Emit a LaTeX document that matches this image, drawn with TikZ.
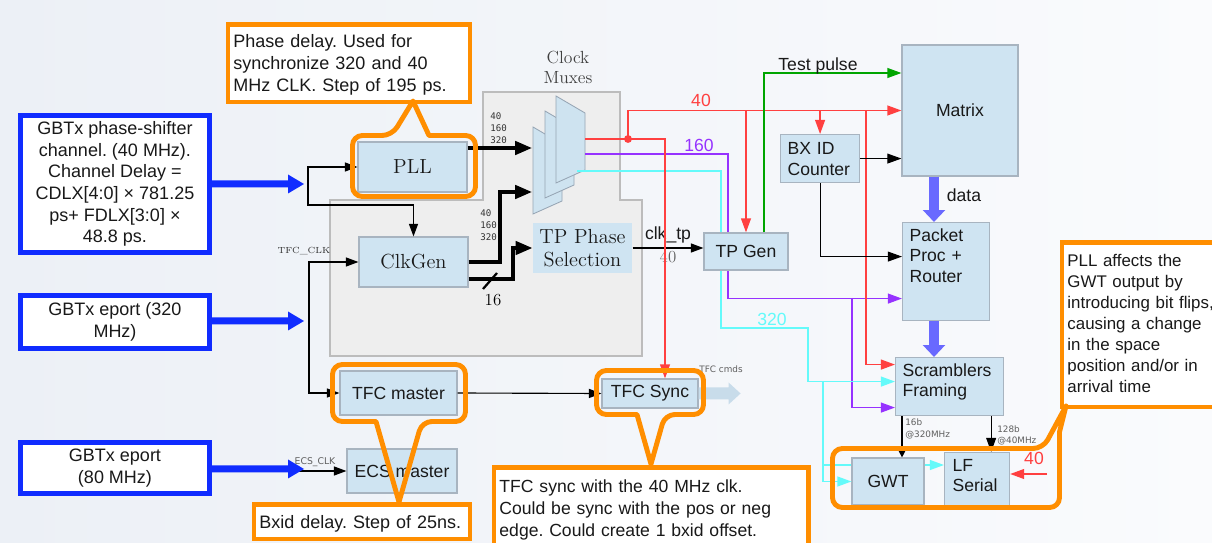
\documentclass[tikz,border=0pt]{standalone}
\usepackage{fontspec}
\setsansfont{Liberation Sans}
\newfontfamily\dvsans{DejaVu Sans}
\newfontfamily\dvmono{DejaVu Sans Mono}
\usetikzlibrary{arrows.meta,calc}
\definecolor{bgL}{RGB}{236,240,246}
\definecolor{bgR}{RGB}{250,251,253}
\definecolor{nodefill}{RGB}{207,228,242}
\definecolor{nodeline}{RGB}{168,180,192}
\definecolor{bbl}{RGB}{16,44,255}
\definecolor{orng}{RGB}{255,142,0}
\definecolor{rd}{RGB}{255,64,64}
\definecolor{pur}{RGB}{150,50,255}
\definecolor{cyn}{RGB}{100,250,250}
\definecolor{grn}{RGB}{0,165,0}
\definecolor{datab}{RGB}{105,105,255}
\definecolor{regfill}{RGB}{238,238,238}
\definecolor{regline}{RGB}{188,188,188}
\definecolor{muxfill}{RGB}{206,227,240}
\definecolor{muxline}{RGB}{150,165,180}
\definecolor{cmdfill}{RGB}{200,220,234}
\definecolor{txt}{RGB}{25,25,25}
\definecolor{lbl}{RGB}{95,95,95}
\frenchspacing
\begin{document}
\begin{tikzpicture}[x=0.025cm,y=-0.025cm,
  wh/.style 2 args={minimum width=#1*0.025cm,minimum height=#2*0.025cm},
  blk/.style={draw=nodeline,fill=nodefill,line width=0.8pt,inner sep=0pt,text=txt,font=\sffamily\fontsize{12.5}{15}\selectfont},
  blkl/.style={blk,anchor=north west,align=left,inner ysep=0pt,inner xsep=0.175cm},
  serifblk/.style={blk,align=center,font=\fontsize{14.5}{16.3}\selectfont},
  bluebox/.style={draw=bbl,line width=3.5pt,fill=white,inner sep=0pt,align=center,text=txt,font=\sffamily\fontsize{12.8}{15.4}\selectfont},
  notebox/.style={draw=orng,line width=3.5pt,fill=white,anchor=north west,inner ysep=0pt,inner xsep=0.1375cm,align=left,text=txt,font=\sffamily\fontsize{12.8}{15.6}\selectfont},
  callout/.style={draw=orng,line width=3.5pt,line join=round},
  tarr/.style={draw=black,line width=0.8pt,-{Triangle[length=9pt,width=6.5pt]}},
  tarrb/.style={draw=black,line width=0.8pt,{Triangle[length=9pt,width=6.5pt]}-{Triangle[length=9pt,width=6.5pt]}},
  karr/.style={draw=black,line width=2.5pt,-{Triangle[length=12pt,width=9.5pt]}},
  carr/.style={line width=1.1pt,-{Triangle[length=10pt,width=7pt]}},
  darr/.style={draw=datab,line width=7pt,-{Triangle[length=8.5pt,width=15.5pt]}},
  lab/.style={inner sep=0pt,text=txt,font=\sffamily\fontsize{12.5}{15}\selectfont},
  smalllab/.style={inner sep=0pt,text=lbl,font=\dvsans\fontsize{6.5}{8.5}\selectfont},
  muxnums/.style={inner sep=0pt,anchor=west,align=left,text=black!80,font=\dvmono\fontsize{6.5}{8.5}\selectfont},
  mux/.style={fill=muxfill,draw=muxline,line width=0.6pt}
]
\useasboundingbox (0,0) rectangle (1212,543);
\shade[left color=bgL,right color=bgR] (0,0) rectangle (1212,543);

% clock region
\filldraw[fill=regfill,draw=regline,line width=0.8pt] (483,92) -- (620,92) -- (620,200) -- (642,200) -- (642,356) -- (330,356) -- (330,200) -- (483,200) -- cycle;
\node[inner sep=0pt,align=center,text=black!75,font=\fontsize{12.5}{14.2}\selectfont] (cmlab) at (568,67) {Clock\\Muxes};

% blue source boxes
\node[bluebox,wh={189}{137}] (gbt1) at (115,184) {GBTx phase-shifter\\channel. (40 MHz).\\Channel Delay =\\CDLX[4:0] × 781.25\\ps+ FDLX[3:0] ×\\48.8 ps.};
\node[bluebox,wh={189}{53}] (gbt2) at (115,322) {GBTx eport (320\\MHz)};
\node[bluebox,wh={189}{51}] (gbt3) at (115,468) {GBTx eport\\(80 MHz)};

% note boxes
\node[notebox,text width=5.775cm,text height=0.5625cm,text depth=1.3625cm] (phnote) at (225.5,22.5) {Phase delay. Used for\\synchronize 320 and 40\\MHz CLK. Step of 195 ps.};
\node[notebox,text width=5.125cm,text height=0.5875cm,text depth=0.2625cm] (bxnote) at (251.5,502.5) {Bxid delay. Step of 25ns.};
\node[notebox,text width=7.575cm,text height=0.6125cm,text depth=1.75cm,font=\sffamily\fontsize{12.5}{15.6}\selectfont] (tfcnote) at (491.5,465.5) {TFC sync with the 40 MHz clk.\\Could be sync with the pos or neg\\edge. Could create 1 bxid offset.};
\node[notebox,text width=4.2cm,text height=0.5875cm,text depth=3.5125cm,font=\sffamily\fontsize{12}{14.9}\selectfont] (pllnote) at (1059.5,240.5) {PLL affects the\\GWT output by\\introducing bit flips,\\causing a change\\in the space\\position and/or in\\arrival time};

% blocks
\node[serifblk,wh={109}{50}] (pll) at (412.5,167) {PLL};
\node[serifblk,wh={109}{50}] (clkgen) at (413.5,262) {ClkGen};
\node[serifblk,draw=none,wh={99}{50}] (tpps) at (582.5,248) {TP Phase\\Selection};
\node[blk,wh={116}{131}] (matrix) at (960,110.5) {Matrix};
\node[blkl,text width=1.625cm,text height=0.5cm,text depth=0.7cm,font=\sffamily\fontsize{12.5}{14.9}\selectfont] (bx) at (780,134) {BX ID\\Counter};
\node[blkl,text width=1.825cm,text height=0.475cm,text depth=1.975cm,font=\sffamily\fontsize{12.5}{14.5}\selectfont] (packet) at (902,222) {Packet\\Proc +\\Router};
\node[blkl,text width=2.35cm,text height=0.475cm,text depth=0.975cm,font=\sffamily\fontsize{12.5}{14.2}\selectfont] (scr) at (895,357) {Scramblers\\Framing};
\node[blkl,inner xsep=0.2cm,text width=1.225cm,text height=0.475cm,text depth=0.85cm,font=\sffamily\fontsize{12.5}{14.2}\selectfont] (lf) at (944,452) {LF\\Serial};
\node[blk,wh={117}{44}] (tfcm) at (398.5,393) {TFC master};
\node[blk,wh={110}{44}] (ecs) at (402,471) {ECS master};
\node[blk,wh={96}{29}] (tfcs) at (650,393.5) {TFC Sync};

% clock muxes
\filldraw[mux] (533,127) -- (562,144) -- (562,201) -- (533,214) -- cycle;
\filldraw[mux] (545,111) -- (574,128) -- (574,185) -- (545,198) -- cycle;
\filldraw[mux] (556,96) -- (585,113) -- (585,170) -- (556,183) -- cycle;
\coordinate (mi1) at (532,148);
\coordinate (mi2) at (532,192);
\coordinate (mo1) at (585,139);
\coordinate (mo2) at (585,154);
\coordinate (mo3) at (577,171);

% thin black connectors
\coordinate (j1) at (308,205);
\coordinate (j2) at (309,300);
\draw[tarrb] (pll.west) -- (pll.west -| j1) -- (j1) -| (clkgen.north);
\draw[tarrb] (clkgen.west) -- (clkgen.west -| j2) |- (tfcm.west);
\coordinate (e0) at (290,471);
\draw[tarr] (e0) -- (ecs.west);
\draw[tarr] (tfcm.east) -- (tfcs.west);

% blue source arrows (shaft + head as one filled shape)
\coordinate (b1) at (304,184);
\coordinate (b2) at (304,321);
\coordinate (b3) at (304,469);
\foreach \src/\tip in {gbt1/b1,gbt2/b2,gbt3/b3}{
  \fill[bbl] (\src.east |- \tip) ++(0,-3.5) -- ($(\tip)+(-16,-3.5)$) -- ($(\tip)+(-16,-9.5)$) -- (\tip) -- ($(\tip)+(-16,9.5)$) -- ($(\tip)+(-16,3.5)$) -- ($(\src.east |- \tip)+(0,3.5)$) -- cycle;
}

% thick black buses
\draw[karr] ($(pll.east)+(0,-19)$) -- (mi1);
\draw[karr] (clkgen.east) -- (500,262) |- (mi2);
\draw[karr] ($(clkgen.east)+(0,17)$) -- (513,279) |- (tpps.west);
\draw[line width=1.6pt] (483,289) -- (497,273);
\node[inner sep=0pt,anchor=base,font=\fontsize{12}{12}\selectfont] (l16) at (493,306) {16};
\node[muxnums] (n1) at (490,128.5) {40\\160\\320};
\node[muxnums] (n2) at (480,225) {40\\160\\320};

% purple and cyan clock lines (behind TP Gen)
\coordinate (pk2) at ($(packet.west)+(0,27)$);
\coordinate (sp) at ($(scr.west)+(0,21)$);
\coordinate (pb) at (852,298);
\draw[carr,draw=pur] (mo2) -- (728,154) |- (pk2);
\draw[carr,draw=pur] (pb) |- (sp);
\coordinate (sc) at ($(scr.west)+(0,-5)$);
\draw[carr,draw=cyn] (mo3) -- (721,171) -- (721,328) -- (808,328) |- (sc);
\coordinate (cl) at (823,465);
\draw[carr,draw=cyn] (cl) -- (cl -| lf.west);

\node[blk,wh={84}{37}] (tpgen) at (746,251.5) {TP Gen};
\node[blk,wh={72}{47}] (gwt) at (888,481.5) {GWT};

\coordinate (cb) at (823,381);
\draw[carr,draw=cyn] (cb) |- (gwt.west);

% TP phase -> TP Gen
\draw[tarr] (tpps.east) -- (tpps.east -| tpgen.west);
\node[lab,anchor=base] (lclk) at (668,240) {clk\_tp};
\node[inner sep=0pt,anchor=base,text=lbl,font=\fontsize{12}{12}\selectfont] (l40c) at (668,263) {40};

% red 40 MHz clock
\coordinate (rdot) at (628,139);
\coordinate (rx) at (665,139);
\coordinate (rv) at (866,0);
\coordinate (sr) at ($(scr.west)+(0,-22)$);
\draw[carr,draw=rd] (mo1) -- (rx) -- (rx |- tfcs.north);
\draw[carr,draw=rd] (rdot) |- (matrix.west);
\draw[carr,draw=rd] (tpgen.north |- matrix.west) -- (tpgen.north);
\draw[carr,draw=rd] (bx.north |- matrix.west) -- (bx.north);
\draw[carr,draw=rd] (rv |- matrix.west) |- (sr);
\fill[rd] (rdot) circle[radius=2.8pt];
\coordinate (r40) at (1047,474);
\draw[carr,draw=rd] (r40) -- (r40 -| lf.east);

% green test pulse
\coordinate (gs) at ($(tpgen.north)+(18,0)$);
\coordinate (gm) at ($(matrix.west)+(0,-37.5)$);
\draw[carr,draw=grn] (gs) |- (gm);

% BX ID connections
\coordinate (pk1) at ($(packet.west)+(0,-15)$);
\draw[carr,draw=black,line width=0.8pt] (bx.east) -- (bx.east -| matrix.west);
\draw[carr,draw=black,line width=0.8pt] (bx.south) |- (pk1);

% scramblers -> GWT / LF
\coordinate (s16) at ($(scr.south west)+(7,0)$);
\coordinate (s128) at ($(scr.south east)+(-13,0)$);
\draw[tarr,-{Triangle[length=6pt,width=6pt]}] (s16) -- (s16 |- gwt.north);
\draw[carr,draw=black,line width=0.8pt] (s128) -- (s128 |- lf.north);
\node[smalllab,align=left,anchor=west,font=\dvsans\fontsize{6.3}{8.5}\selectfont] (l16b) at (905,429) {16b\\@320MHz};
\node[smalllab,align=left,anchor=west,font=\dvsans\fontsize{6.3}{7.8}\selectfont] (l128b) at (997,435.5) {128b\\@40MHz};

% data path
\coordinate (dx) at (934,0);
\draw[darr] (matrix.south -| dx) -- (packet.north -| dx);
\draw[darr] (packet.south -| dx) -- (scr.north -| dx);

% TFC cmds fat arrow
\fill[cmdfill] ($(tfcs.east)+(0,-6)$) -- ++(30,0) -- ++(0,-5) -- ++(12,11) -- ++(-12,11) -- ++(0,-5) -- ++(-30,0) -- cycle;

% labels
\node[lab,anchor=base,text=rd] (l40a) at (701,107) {40};
\node[lab,anchor=base,text=pur] (l160) at (699,152) {160};
\node[lab,anchor=base,text=cyn] (l320) at (772,326) {320};
\node[lab,anchor=base,text=rd] (l40b) at (1034,465) {40};
\node[lab,anchor=base] (ltp) at (818,71) {Test pulse};
\node[lab,anchor=base] (ldata) at (964,202) {data};
\node[inner sep=0pt,text=black!80,font=\fontsize{6.3}{7}\selectfont] (ltfc) at (304,251) {TFC\_CLK};
\node[smalllab,font=\dvsans\fontsize{6.6}{8}\selectfont] (lecs) at (315,462) {ECS\_CLK};
\node[smalllab,font=\dvsans\fontsize{6.3}{8}\selectfont] (lcmds) at (721,369) {TFC cmds};

% orange callouts
\draw[callout] (429,135.5) [rounded corners=7pt] -- (475.5,135.5) -- (475.5,196.5) -- (352.5,196.5) -- (352.5,135.5) -- (392,135.5) [sharp corners] -- (413,101) -- cycle;
\draw[callout] (376,421.5) [rounded corners=7pt] -- (332.5,421.5) -- (332.5,364.5) -- (465.5,364.5) -- (465.5,421.5) -- (422,421.5) [sharp corners] -- (399,502) -- cycle;
\draw[callout] (637,414.5) [rounded corners=7pt] -- (596.5,414.5) -- (596.5,370.5) -- (703.5,370.5) -- (703.5,414.5) -- (665,414.5) [sharp corners] -- (651,464) -- cycle;
\draw[callout] (1059.5,432) [rounded corners=7pt] -- (1059.5,507.5) -- (832.5,507.5) -- (832.5,448.5) -- (1043,448.5) [sharp corners] -- (1066,406) -- cycle;
\end{tikzpicture}
\end{document}
